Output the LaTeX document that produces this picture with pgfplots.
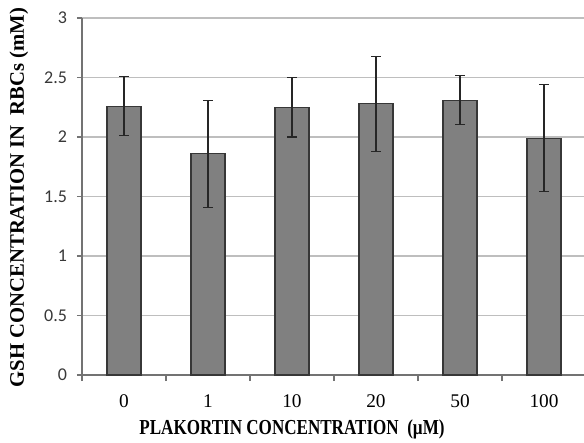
\documentclass[border=0pt]{standalone}
\usepackage{pgfplots}
\pgfplotsset{compat=1.18}
\usepackage{fontspec}
\setmainfont{Liberation Serif}
\newfontfamily\carlito{Carlito}
\definecolor{barfill}{RGB}{128,128,128}
\definecolor{baredge}{RGB}{55,55,55}
\definecolor{gridc}{RGB}{190,190,190}
\definecolor{axisc}{RGB}{115,115,115}
\begin{document}
\begin{tikzpicture}
\path[use as bounding box] (-61.5pt,-50.25pt) rectangle (376.5pt,281.25pt);
\begin{axis}[
  at={(0pt,0pt)}, anchor=south west,
  scale only axis, width=378pt, height=267.75pt,
  xmin=-0.5, xmax=5.5, ymin=0, ymax=3,
  axis x line*=bottom, axis y line*=left,
  axis line style={axisc, line width=0.8pt},
  xtick={0,1,2,3,4,5},
  xticklabels={0,1,10,20,50,100},
  minor xtick={-0.5,0.5,1.5,2.5,3.5,4.5,5.5},
  major x tick style={draw=none},
  minor x tick style={axisc, line width=0.8pt},
  minor tick length=4.5pt,
  ytick={0,0.5,1,1.5,2,2.5,3},
  yticklabels={0,0.5,1,1.5,2,2.5,3},
  y tick style={axisc, line width=0.8pt},
  major tick length=3.75pt,
  tick align=outside,
  ymajorgrids,
  grid style={gridc, line width=0.8pt},
  xticklabel style={font=\fontsize{14.5}{14.5}\selectfont, anchor=base, yshift=-20.25pt},
  yticklabel style={font=\carlito\fontsize{13.5}{13.5}\selectfont, text=black!78, xshift=-4pt},
  xlabel={\scalebox{0.8}[1]{\textbf{PLAKORTIN CONCENTRATION\ \ (µM)}}},
  xlabel style={font=\fontsize{16}{16}\selectfont, at={(axis description cs:0.4167,0)}, anchor=base, yshift=-44.25pt},
  ylabel={\textbf{GSH CONCENTRATION IN\ \ RBCs (mM)}},
  ylabel style={font=\fontsize{15.5}{15.5}\selectfont, at={(axis description cs:-0.125,0.497)}, anchor=center},
  clip=false,
]
\addplot[ybar, bar width=25.5pt, fill=barfill, draw=baredge, line width=0.8pt,
  error bars/.cd, y dir=both, y explicit,
  error bar style={black!85, line width=0.8pt},
  error mark options={black!85, line width=0.8pt, mark size=3.75pt, rotate=90}]
  coordinates {
  (0,2.26) +- (0,0.25)
  (1,1.86) +- (0,0.45)
  (2,2.25) +- (0,0.25)
  (3,2.28) +- (0,0.40)
  (4,2.31) +- (0,0.205)
  (5,1.99) +- (0,0.45)
  };
\end{axis}
\end{tikzpicture}
\end{document}
